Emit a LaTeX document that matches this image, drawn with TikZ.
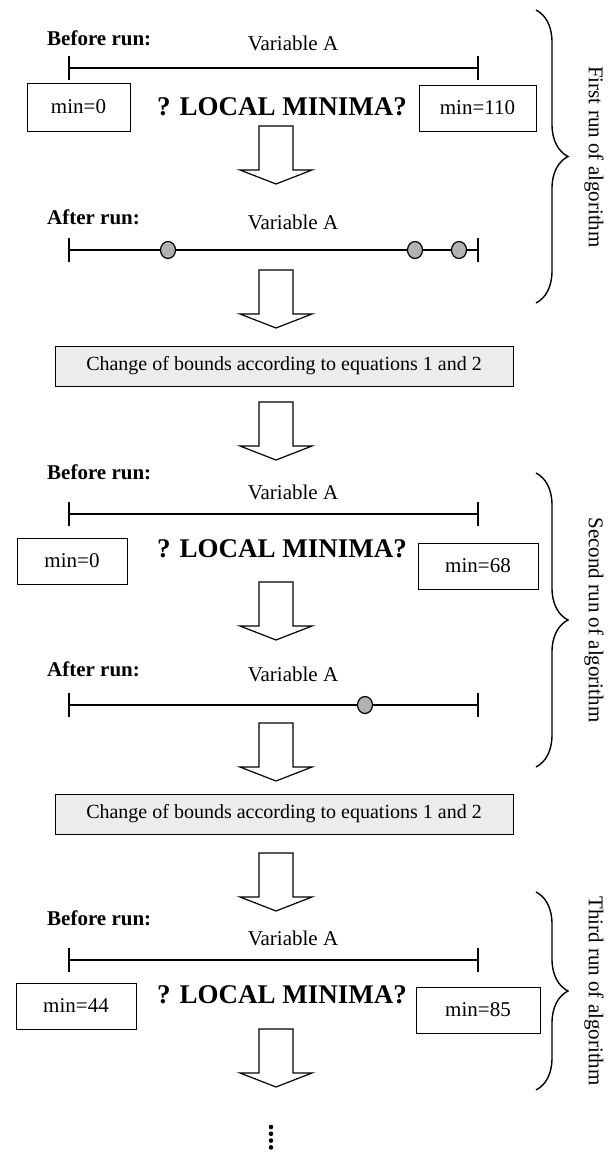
\documentclass[tikz,border=0pt]{standalone}
\usepackage{fontspec}
\setmainfont{Liberation Serif}
\usetikzlibrary{decorations.pathreplacing,positioning,shapes.geometric}

\begin{document}
\begin{tikzpicture}[x=1pt, y=-1pt,
    lbl/.style={font=\fontsize{21}{24}\selectfont, inner sep=0pt, anchor=base},
    hdr/.style={font=\fontsize{21}{24}\selectfont\bfseries, inner sep=0pt, anchor=base west},
    ques/.style={font=\fontsize{27}{30}\selectfont\bfseries, inner sep=0pt, anchor=base},
    minbox/.style={draw, line width=0.8pt, font=\fontsize{21}{24}\selectfont, inner sep=0pt},
    bndbox/.style={draw, line width=1pt, fill=gray!15, minimum width=458pt,
      minimum height=40pt, inner sep=0pt, font=\fontsize{20}{24}\selectfont},
    axis/.style={line width=1.6pt},
    dotpt/.style={draw, ellipse, line width=1.2pt, fill=gray!60,
      minimum width=15pt, minimum height=17pt, inner sep=0pt},
    grp/.style={decorate, decoration={brace, amplitude=32pt}, line width=1.4pt},
    runlbl/.style={font=\fontsize{21}{24}\selectfont, rotate=-90, inner sep=0pt},
    flowarr/.pic={\draw[line width=1.2pt] (-17,0) -- (17,0) -- (17,44) -- (36,44)
      -- (0,58) -- (-36,44) -- (-17,44) -- cycle;}
]
\useasboundingbox (0,0) rectangle (616,1152);

% --- First run: before ---
\node[hdr] (bef1) at (47,45) {Before run:};
\node[lbl] (var1) at (293,50) {Variable A};
\coordinate (a1l) at (69,68);
\coordinate (a1r) at (478,68);
\draw[axis] (a1l) -- (a1r);
\draw[axis] ([yshift=12pt]a1l) -- ([yshift=-12pt]a1l);
\draw[axis] ([yshift=12pt]a1r) -- ([yshift=-12pt]a1r);
\node[minbox, minimum width=103pt, minimum height=48pt] (lo1) at (78.5,107) {min=0};
\node[ques] (q1) at (282,115) {? LOCAL MINIMA?};
\node[minbox, minimum width=117pt, minimum height=46pt] (hi1) at (477.5,108) {min=110};
\pic at (276,126) {flowarr};

% --- First run: after ---
\node[hdr] (aft1) at (47,224) {After run:};
\node[lbl] (var2) at (293,229) {Variable A};
\coordinate (a2l) at (69,250);
\coordinate (a2r) at (478,250);
\draw[axis] (a2l) -- (a2r);
\draw[axis] ([yshift=12pt]a2l) -- ([yshift=-12pt]a2l);
\draw[axis] ([yshift=12pt]a2r) -- ([yshift=-12pt]a2r);
\node[dotpt] (m1) at (168,250) {};
\node[dotpt] (m2) at (415,250) {};
\node[dotpt] (m3) at (459,250) {};
\pic at (276,270) {flowarr};

\node[bndbox] (chg1) at (284,366) {Change of bounds according to equations 1 and 2};
\pic at (276,402) {flowarr};

% --- Second run: before ---
\node[hdr] (bef2) at (47,479) {Before run:};
\node[lbl] (var3) at (293,499) {Variable A};
\coordinate (a3l) at (69,514);
\coordinate (a3r) at (478,514);
\draw[axis] (a3l) -- (a3r);
\draw[axis] ([yshift=12pt]a3l) -- ([yshift=-12pt]a3l);
\draw[axis] ([yshift=12pt]a3r) -- ([yshift=-12pt]a3r);
\node[minbox, minimum width=110pt, minimum height=46pt] (lo2) at (72,561) {min=0};
\node[ques] (q2) at (282,557) {? LOCAL MINIMA?};
\node[minbox, minimum width=120pt, minimum height=46pt] (hi2) at (478,566) {min=68};
\pic at (276,582) {flowarr};

% --- Second run: after ---
\node[hdr] (aft2) at (47,676) {After run:};
\node[lbl] (var4) at (293,681) {Variable A};
\coordinate (a4l) at (69,705);
\coordinate (a4r) at (478,705);
\draw[axis] (a4l) -- (a4r);
\draw[axis] ([yshift=12pt]a4l) -- ([yshift=-12pt]a4l);
\draw[axis] ([yshift=12pt]a4r) -- ([yshift=-12pt]a4r);
\node[dotpt] (m4) at (365,705) {};
\pic at (276,723) {flowarr};

\node[bndbox] (chg2) at (284,814) {Change of bounds according to equations 1 and 2};
\pic at (276,853) {flowarr};

% --- Third run: before ---
\node[hdr] (bef3) at (47,925) {Before run:};
\node[lbl] (var5) at (293,945) {Variable A};
\coordinate (a5l) at (69,960);
\coordinate (a5r) at (478,960);
\draw[axis] (a5l) -- (a5r);
\draw[axis] ([yshift=12pt]a5l) -- ([yshift=-12pt]a5l);
\draw[axis] ([yshift=12pt]a5r) -- ([yshift=-12pt]a5r);
\node[minbox, minimum width=120pt, minimum height=46pt] (lo3) at (76,1006) {min=44};
\node[ques] (q3) at (282,1003) {? LOCAL MINIMA?};
\node[minbox, minimum width=124pt, minimum height=46pt] (hi3) at (478,1010) {min=85};
\pic at (276,1029) {flowarr};

% --- Continuation dots ---
\foreach \d in {0,...,3}
  \fill (271,{1127+6.8*\d}) circle (2.3pt);

% --- Braces and run labels ---
\draw[grp] (536,10) -- (536,303);
\node[runlbl] (r1) at (594,157) {First run of algorithm};
\draw[grp] (536,473) -- (536,767);
\node[runlbl] (r2) at (594,620) {Second run of algorithm};
\draw[grp] (536,892) -- (536,1090);
\node[runlbl] (r3) at (594,991) {Third run of algorithm};
\end{tikzpicture}
\end{document}
